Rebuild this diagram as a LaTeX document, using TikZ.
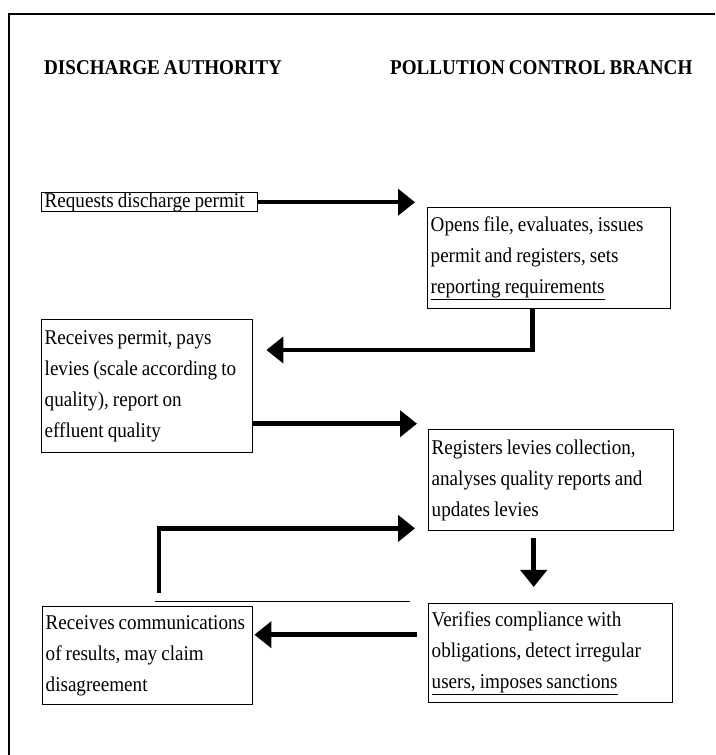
\documentclass[tikz,border=0pt]{standalone}
\usepackage{fontspec}
\setmainfont{Liberation Serif}[FakeStretch=0.91,WordSpace=0.85]
\usepackage{tikz}
\usetikzlibrary{arrows.meta}
\usetikzlibrary{positioning}
\tikzset{
    mybox/.style = {draw=black, line width=1.4pt, anchor=north west, align=flush left, inner xsep=3pt, inner ysep=0pt, font=\fontsize{21}{31}\selectfont},
    myhead/.style = {anchor=base west, inner sep=0pt, font=\fontsize{21}{25}\selectfont\bfseries},
}

\begin{document}
\begin{tikzpicture}[
	x=1pt, y=1pt,
	line join=miter
]
\tikzset{
    flow/.style = {line width=4.5pt, -{Triangle[length=17pt,width=26pt]}},
    frame/.style = {line width=1.6pt},
    stray/.style = {line width=1pt},
}
\useasboundingbox (0,0) rectangle (715,755);
\draw[frame] (715,741) -- (9,741) -- (9,0);
%
\node[myhead] at (44,680) (da) {DISCHARGE AUTHORITY};
\node[myhead] at (390,680) (pcb) {POLLUTION CONTROL BRANCH};
%
\node[mybox, text width=210pt, minimum height=19pt] at (41,563) (req) {Requests discharge permit};
\node[mybox, text width=237pt, minimum height=101pt] at (427,548) (opens) {Opens file, evaluates, issues\\permit and registers, sets\\\underline{reporting requirements}};
\node[mybox, text width=205pt, minimum height=133pt] at (41,436) (recv) {Receives permit, pays\\levies (scale according to\\quality), report on\\effluent quality};
\node[mybox, text width=239pt, minimum height=101pt] at (428,326) (reg) {Registers levies collection,\\analyses quality reports and\\updates levies};
\node[mybox, text width=238pt, minimum height=99pt] at (428,152) (ver) {Verifies compliance with\\obligations, detect irregular\\\underline{users, imposes sanctions}};
\node[mybox, text width=204pt, minimum height=98pt] at (42,149) (comm) {Receives communications\\of results, may claim\\disagreement};
\coordinate (fb) at (159,162);
%
\draw[flow, shorten >=12pt] (req.east) -- (req.east -| opens.west);
\draw[flow] ([xshift=-16.5pt]opens.south) |- ([shift={(13,-31)}]recv.north east);
\draw[flow, shorten >=11pt] ([yshift=-37.5pt]recv.east) -- ([yshift=-37.5pt]recv.east -| reg.west);
\draw[flow] (fb) |- ([shift={(-13,3)}]reg.south west);
\draw[flow, shorten <=7pt, shorten >=16pt] ([xshift=-17.5pt]reg.south) -- ([xshift=-17.5pt]reg.south |- ver.north);
\draw[flow, shorten <=11pt, shorten >=1pt] ([yshift=18.5pt]ver.west) -- ([yshift=18.5pt]ver.west -| comm.east);
\draw[stray] (155,153) -- (410,153);
\end{tikzpicture}
\end{document}
